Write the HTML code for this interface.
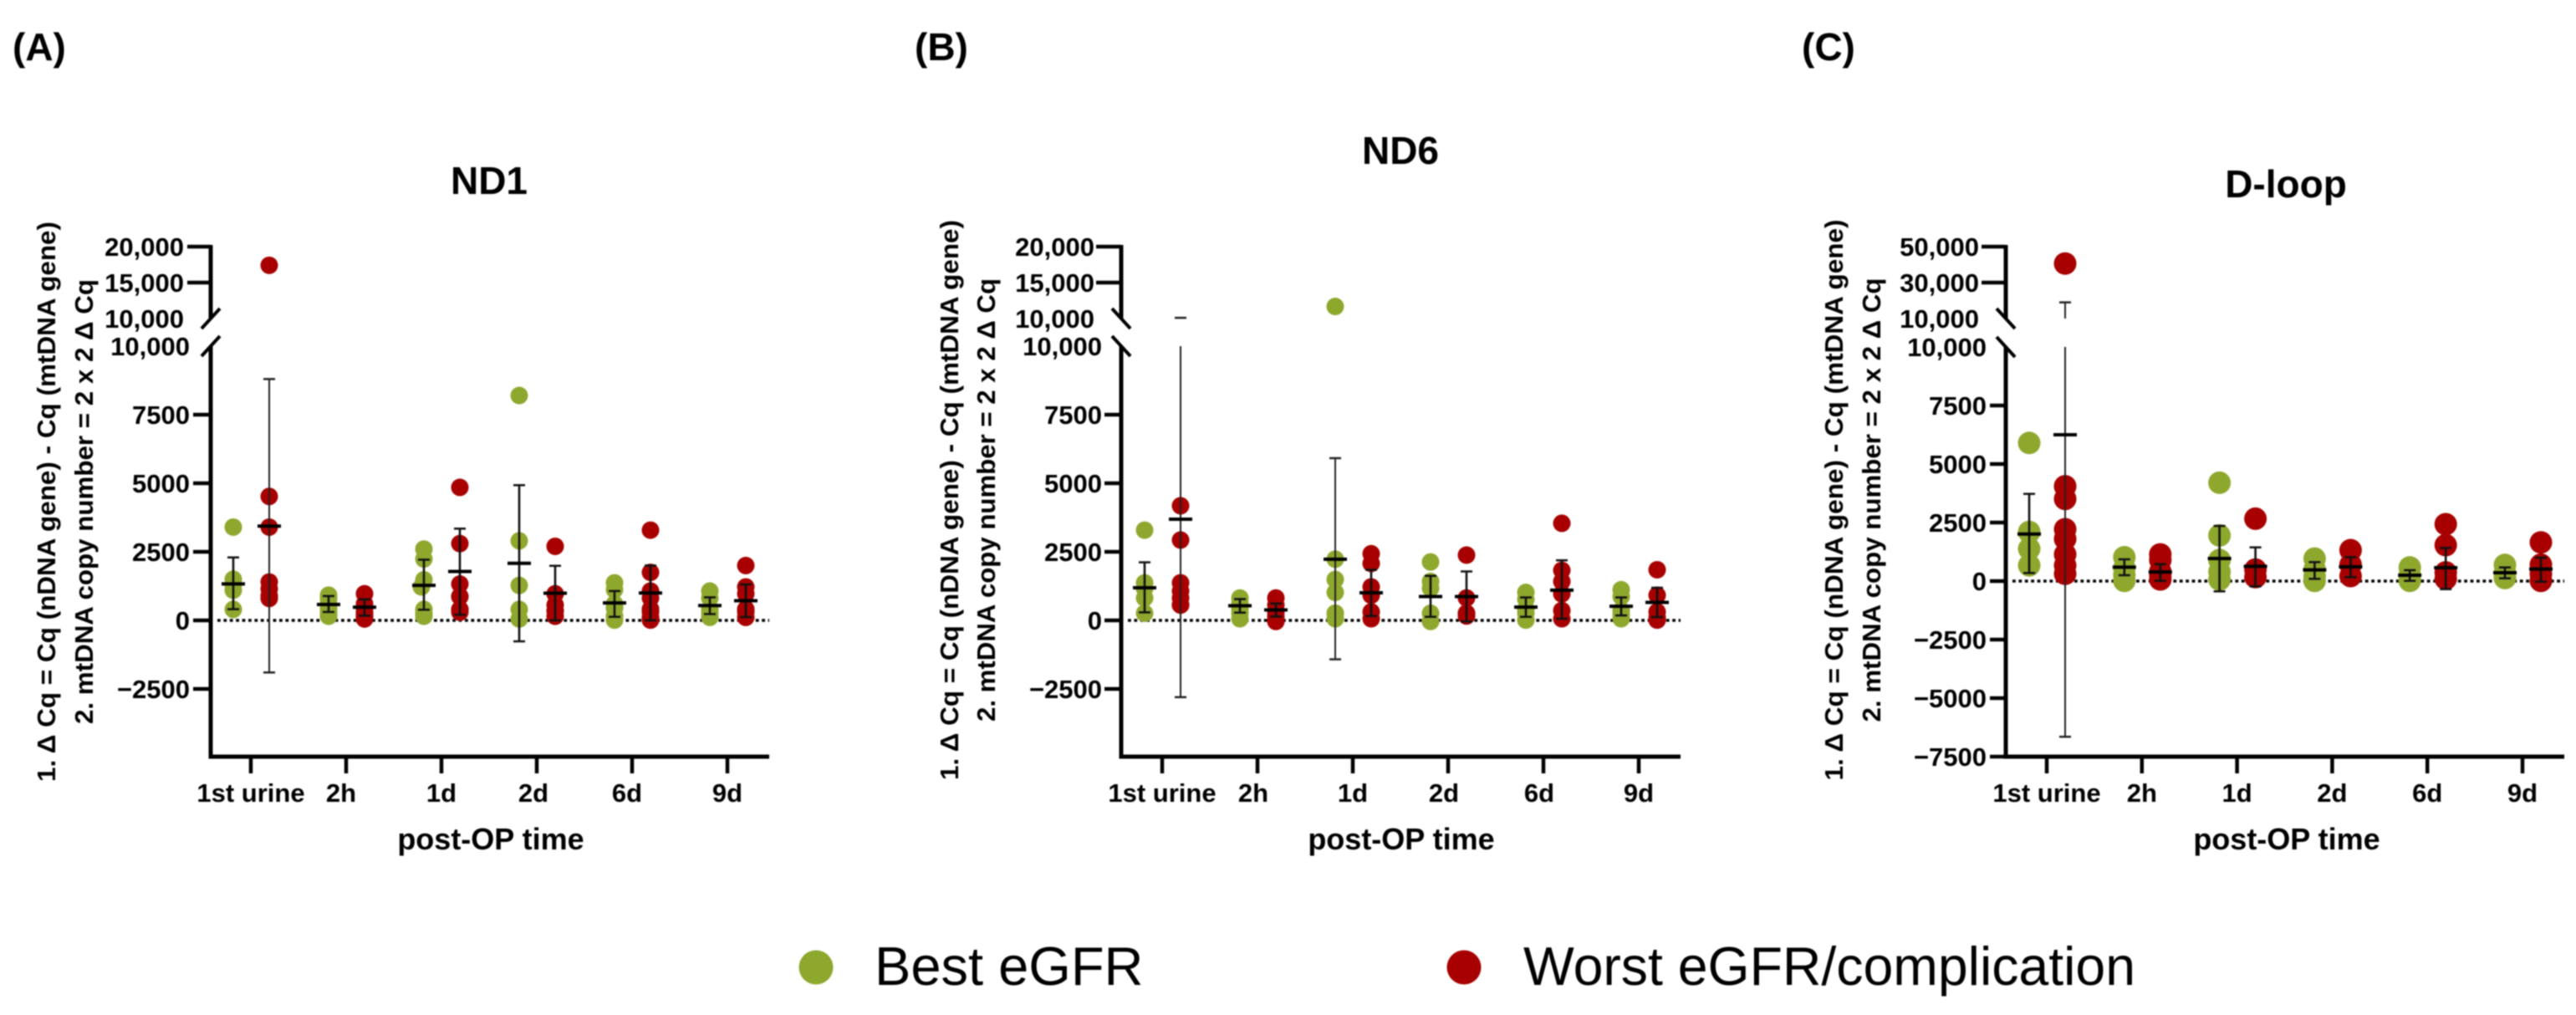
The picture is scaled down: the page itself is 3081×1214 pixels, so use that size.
<!DOCTYPE html>
<html lang="en">
<head>
<meta charset="utf-8">
<title>mtDNA copy number post-OP time</title>
<style>
html,body{margin:0;padding:0;background:#fff;width:3081px;height:1214px;overflow:hidden}
svg{display:block;filter:blur(0.7px)}
text{font-family:"Liberation Sans",sans-serif;fill:#000}
.b{font-weight:bold}
</style>
</head>
<body>
<svg id="chart" xmlns="http://www.w3.org/2000/svg" width="3081" height="1214" viewBox="0 0 3081 1214">
  <rect x="0" y="0" width="3081" height="1214" fill="#fff"/>
  <text class="b" x="15" y="72" font-size="46">(A)</text>
  <text class="b" x="1094" y="72" font-size="46">(B)</text>
  <text class="b" x="2155" y="72" font-size="46">(C)</text>
  <g>
    <circle cx="976" cy="1157" r="20.5" fill="#8ea82e"/>
    <text x="1046" y="1178" font-size="65">Best eGFR</text>
    <circle cx="1751" cy="1157" r="20.5" fill="#a80000"/>
    <text x="1822" y="1178" font-size="65" textLength="732" lengthAdjust="spacingAndGlyphs">Worst eGFR/complication</text>
  </g>
</svg>
<script>
const timepoints = ['1st urine', '2h', '1d', '2d', '6d', '9d'];

const lowerTicksAB = [10000, 7500, 5000, 2500, 0, -2500];
const lowerTickLabelsAB = ['10,000', '7500', '5000', '2500', '0', '\u22122500'];
const upperTicksAB = [20000, 15000];
const upperTickLabelsAB = ['20,000', '15,000', '10,000'];

const lowerTicksC = [10000, 7500, 5000, 2500, 0, -2500, -5000, -7500];
const lowerTickLabelsC = ['10,000', '7500', '5000', '2500', '0', '\u22122500', '\u22125000', '\u22127500'];
const upperTicksC = [50000, 30000];
const upperTickLabelsC = ['50,000', '30,000', '10,000'];

const nd1BestPoints = [
  [3400, 1500, 1300, 1300, 1100, 400],
  [920, 800, 600, 450, 300, 200, 150],
  [2600, 2240, 1480, 1220, 400, 250, 150],
  [8200, 2900, 1275, 400, 50],
  [1370, 1120, 600, 460, 460, 160, 10],
  [1070, 816, 410, 260, 110]
];
const nd1BestMeans = [1330, 580, 1275, 2080, 635, 540];
const nd1BestUpper = [2295, 887, 2213, 4930, 1070, 840];
const nd1BestLower = [408, 306, 388, -765, 130, 230];

const nd1WorstPoints = [
  [17400, 4520, 3400, 1400, 1150, 900, 800],
  [970, 600, 450, 300, 200, 150, 50],
  [4850, 2800, 1325, 870, 870, 400, 400, 300],
  [2700, 970, 560, 350, 350, 150],
  [3290, 1750, 1070, 816, 410, 310, 110, 10],
  [2000, 1220, 970, 410, 310, 110]
];
const nd1WorstMeans = [3437, 480, 1785, 990, 1000, 715];
const nd1WorstUpper = [8800, 765, 3345, 1990, 2000, 1310];
const nd1WorstLower = [-1900, 173, 204, 0, 0, 120];

const nd6BestPoints = [
  [3290, 1370, 1170, 1170, 816, 260],
  [816, 615, 410, 260, 60],
  [11680, 2230, 1490, 1020, 260, 260, 60],
  [2130, 1420, 1170, 260, -40],
  [1020, 766, 410, 260, 10],
  [1120, 867, 360, 210, 60]
];
const nd6BestMeans = [1190, 534, 2230, 867, 484, 514];
const nd6BestUpper = [2117, 776, 5915, 1623, 836, 836];
const nd6BestLower = [292, 282, -1420, 130, 130, 180];

const nd6WorstPoints = [
  [4180, 2930, 1370, 1070, 816, 560, 560],
  [816, 560, 310, 160, 10, -40],
  [2430, 2075, 1220, 917, 310, 60],
  [2380, 816, 260, 260, 160],
  [3540, 1825, 1420, 967, 360, 60],
  [1845, 917, 310, 110, 10]
];
const nd6WorstMeans = [3690, 383, 1008, 867, 1100, 655];
const nd6WorstUpper = [10100, 615, 1845, 1784, 2190, 1190];
const nd6WorstLower = [-2800, 140, 160, -40, 60, 120];

const dloopBestPoints = [
  [5900, 2100, 1380, 670],
  [1020, 550, 250, 10],
  [4200, 1950, 900, 400, 70],
  [960, 500, 200, 10],
  [583, 250, 10],
  [690, 350, 130]
];
const dloopBestMeans = [2011, 595, 964, 476, 250, 357];
const dloopBestUpper = [3725, 930, 2356, 810, 465, 583];
const dloopBestLower = [345, 250, -440, 95, 10, 119];

const dloopWorstPoints = [
  [40600, 4050, 3510, 2215, 1800, 1140, 670, 310],
  [1140, 900, 400, 250, 70],
  [2665, 490, 170],
  [1320, 700, 214],
  [2430, 1535, 370, 100],
  [1654, 700, 300, 10]
];
const dloopWorstMeans = [6250, 390, 630, 607, 570, 512];
const dloopWorstUpper = [19000, 725, 1440, 1023, 1416, 1000];
const dloopWorstLower = [-6650, 10, -226, 167, -345, -24];

const SVGNS = 'http://www.w3.org/2000/svg';
const root = document.getElementById('chart');
function make(tag, parent, geom, text) {
  const el = document.createElementNS(SVGNS, tag);
  for (const k in geom) el.setAttribute(k, geom[k]);
  if (text !== undefined) el.textContent = text;
  parent.appendChild(el);
  return el;
}

const GREEN = '#8ea82e';
const RED = '#a80000';

const panels = [
  {
    key: 'nd1', title: 'ND1', titleX: 585, titleY: 232,
    axisX: 252, axisEnd: 920, firstTick: 300, tickStep: 114,
    zero: 742, perUnit: 0.0328, upperRef: 381, upperPerUnit: 0.0086, bottomY: 905,
    upperLabelRight: 220, lowerLabelRight: 227, upperTickStart: 224, lowerTickStart: 231,
    breakDir: 1, r: 10.5, minDist: 9, jitter: 3, labelNudge: [0, -6, 0, -4, -6, 0],
    titleLine1X: 66, titleLine2X: 111, titleCenter: 600, line1Len: 670, line2Len: 532,
    xTitleX: 587, lowerTicks: lowerTicksAB, lowerTickLabels: lowerTickLabelsAB,
    upperTicks: upperTicksAB, upperTickLabels: upperTickLabelsAB,
    best: [nd1BestPoints, nd1BestMeans, nd1BestUpper, nd1BestLower],
    worst: [nd1WorstPoints, nd1WorstMeans, nd1WorstUpper, nd1WorstLower]
  },
  {
    key: 'nd6', title: 'ND6', titleX: 1675, titleY: 196,
    axisX: 1341, axisEnd: 2010, firstTick: 1390, tickStep: 114,
    zero: 742, perUnit: 0.0328, upperRef: 381, upperPerUnit: 0.0086, bottomY: 905,
    upperLabelRight: 1309, lowerLabelRight: 1318, upperTickStart: 1311, lowerTickStart: 1321,
    breakDir: -1, r: 10.5, minDist: 9, jitter: 3, labelNudge: [0, -5, 0, -5, -5, 0],
    titleLine1X: 1146, titleLine2X: 1190, titleCenter: 598, line1Len: 670, line2Len: 530,
    xTitleX: 1676, lowerTicks: lowerTicksAB, lowerTickLabels: lowerTickLabelsAB,
    upperTicks: upperTicksAB, upperTickLabels: upperTickLabelsAB,
    best: [nd6BestPoints, nd6BestMeans, nd6BestUpper, nd6BestLower],
    worst: [nd6WorstPoints, nd6WorstMeans, nd6WorstUpper, nd6WorstLower]
  },
  {
    key: 'dloop', title: 'D-loop', titleX: 2734, titleY: 236,
    axisX: 2399, axisEnd: 3067, firstTick: 2448, tickStep: 113.8,
    zero: 695, perUnit: 0.028, upperRef: 381, upperPerUnit: 0.00215, bottomY: 905,
    upperLabelRight: 2367, lowerLabelRight: 2376, upperTickStart: 2370, lowerTickStart: 2380,
    breakDir: -1, r: 13.5, minDist: 3, jitter: 1, labelNudge: [0, 0, 0, 0, 0, 0],
    titleLine1X: 2204, titleLine2X: 2249, titleCenter: 598, line1Len: 671, line2Len: 531,
    xTitleX: 2735, lowerTicks: lowerTicksC, lowerTickLabels: lowerTickLabelsC,
    upperTicks: upperTicksC, upperTickLabels: upperTickLabelsC,
    best: [dloopBestPoints, dloopBestMeans, dloopBestUpper, dloopBestLower],
    worst: [dloopWorstPoints, dloopWorstMeans, dloopWorstUpper, dloopWorstLower]
  }
];

function drawPanel(p) {
  const yOf = function (v) {
    return v > 10000 ? p.upperRef - (v - 10000) * p.upperPerUnit : p.zero - v * p.perUnit;
  };
  const tickX = function (i) { return p.firstTick + i * p.tickStep; };
  const lowerTopY = yOf(10000);

  const g = make('g', root, {});
  
  

  const title = make('text', g, { x: p.titleX, y: p.titleY, 'font-size': 46, 'text-anchor': 'middle', class: 'b' }, p.title);
  
  

  const l1 = make('text', g, { transform: 'translate(' + p.titleLine1X + ',' + p.titleCenter + ') rotate(-90)', 'font-size': 31, 'text-anchor': 'middle', class: 'b', textLength: p.line1Len, lengthAdjust: 'spacingAndGlyphs' }, '1. \u0394 Cq = Cq (nDNA gene) - Cq (mtDNA gene)');
  
  

  const l2 = make('text', g, { transform: 'translate(' + p.titleLine2X + ',' + p.titleCenter + ') rotate(-90)', 'font-size': 31, 'text-anchor': 'middle', class: 'b', textLength: p.line2Len, lengthAdjust: 'spacingAndGlyphs' }, '2. mtDNA copy number = 2 x 2 \u0394 Cq');
  
  

  const xt = make('text', g, { x: p.xTitleX, y: 1016, 'font-size': 36, 'text-anchor': 'middle', class: 'b' }, 'post-OP time');
  
  

  // reference line at zero
  const zl = make('line', g, { x1: p.axisX + 8, x2: p.axisEnd, y1: yOf(0), y2: yOf(0), stroke: '#000', 'stroke-width': 3.5, 'stroke-dasharray': '3.8 3.6' });
  
  

  // dots: small swarm offset for near-coincident values
  [[p.best, GREEN, -21, 'best'], [p.worst, RED, 22, 'worst']].forEach(function (s) {
    s[0][0].forEach(function (vals, i) {
      const cx = tickX(i) + s[2];
      const placed = [];
      vals.forEach(function (v) {
        const cy = yOf(v);
        const tries = [0, -p.jitter, p.jitter];
        let dx = 0;
        for (const t of tries) {
          const clash = placed.some(function (q) { return Math.hypot(q[0] - t, q[1] - cy) < p.minDist; });
          if (!clash) { dx = t; break; }
        }
        placed.push([dx, cy]);
        const dot = make('circle', g, { cx: cx + dx, cy: cy, r: p.r, fill: s[1] });
        
        
      });
    });
  });

  // mean and error bars
  [[p.best, -21, 'best'], [p.worst, 22, 'worst']].forEach(function (s) {
    s[0][1].forEach(function (mean, i) {
      const cx = tickX(i) + s[1];
      const hi = s[0][2][i];
      const lo = s[0][3][i];
      const longBar = hi > 8000 || lo < -1000;
      const w = longBar ? 2 : 2.6;
      const col = longBar ? '#222' : '#111';
      const topOfLine = hi > 10000 ? lowerTopY : yOf(hi);
      const eb = make('line', g, { x1: cx, x2: cx, y1: topOfLine, y2: yOf(lo), stroke: col, 'stroke-width': w });
      
      
      if (hi > 10000) {
        const stub = make('line', g, { x1: cx, x2: cx, y1: yOf(10000.01), y2: yOf(hi), stroke: col, 'stroke-width': w });
        
        
      }
      [hi, lo].forEach(function (c) {
        const cap = make('line', g, { x1: cx - 7, x2: cx + 7, y1: yOf(c), y2: yOf(c), stroke: col, 'stroke-width': 2.5 });
        
        
      });
      const m = make('line', g, { x1: cx - 14, x2: cx + 14, y1: yOf(mean), y2: yOf(mean), stroke: '#000', 'stroke-width': 4 });
      
      
    });
  });

  // y axis segments
  const yTop = yOf(p.upperTicks[0]);
  const upperAxis = make('line', g, { x1: p.axisX, x2: p.axisX, y1: yTop - 2, y2: p.upperRef, stroke: '#000', 'stroke-width': 5 });
  
  
  const lowerAxis = make('line', g, { x1: p.axisX, x2: p.axisX, y1: lowerTopY, y2: p.bottomY + 2.5, stroke: '#000', 'stroke-width': 5 });
  
  

  [p.upperRef, lowerTopY].forEach(function (by) {
    const sl = make('line', g, { x1: p.axisX - 11 * p.breakDir, x2: p.axisX + 11 * p.breakDir, y1: by + 12, y2: by - 12, stroke: '#000', 'stroke-width': 4 });
    
    
  });

  p.upperTicks.forEach(function (v, i) {
    const t = make('line', g, { x1: p.upperTickStart, x2: p.axisX, y1: yOf(v), y2: yOf(v), stroke: '#000', 'stroke-width': 4.5 });
    
    
    const tl = make('text', g, { x: p.upperLabelRight, y: yOf(v) + 11, 'font-size': 31, 'text-anchor': 'end', class: 'b' }, p.upperTickLabels[i]);
    
    
  });
  const breakLabel = make('text', g, { x: p.upperLabelRight, y: p.upperRef + 11, 'font-size': 31, 'text-anchor': 'end', class: 'b' }, p.upperTickLabels[2]);
  
  

  p.lowerTicks.forEach(function (v, i) {
    if (v < 10000) {
      const t = make('line', g, { x1: p.lowerTickStart, x2: p.axisX, y1: yOf(v), y2: yOf(v), stroke: '#000', 'stroke-width': 4.5 });
      
      
    }
    const tl = make('text', g, { x: p.lowerLabelRight, y: yOf(v) + 11, 'font-size': 31, 'text-anchor': 'end', class: 'b' }, p.lowerTickLabels[i]);
    
    
  });

  // x axis
  const xAxis = make('line', g, { x1: p.axisX - 2.5, x2: p.axisEnd, y1: p.bottomY, y2: p.bottomY, stroke: '#000', 'stroke-width': 5 });
  
  

  timepoints.forEach(function (name, i) {
    const t = make('line', g, { x1: tickX(i), x2: tickX(i), y1: p.bottomY, y2: p.bottomY + 20, stroke: '#000', 'stroke-width': 4.5 });
    
    
    const tl = make('text', g, { x: tickX(i) + p.labelNudge[i], y: 959, 'font-size': 31, 'text-anchor': 'middle', class: 'b' }, name);
    
    
  });
}

panels.forEach(drawPanel);
</script>
</body>
</html>
